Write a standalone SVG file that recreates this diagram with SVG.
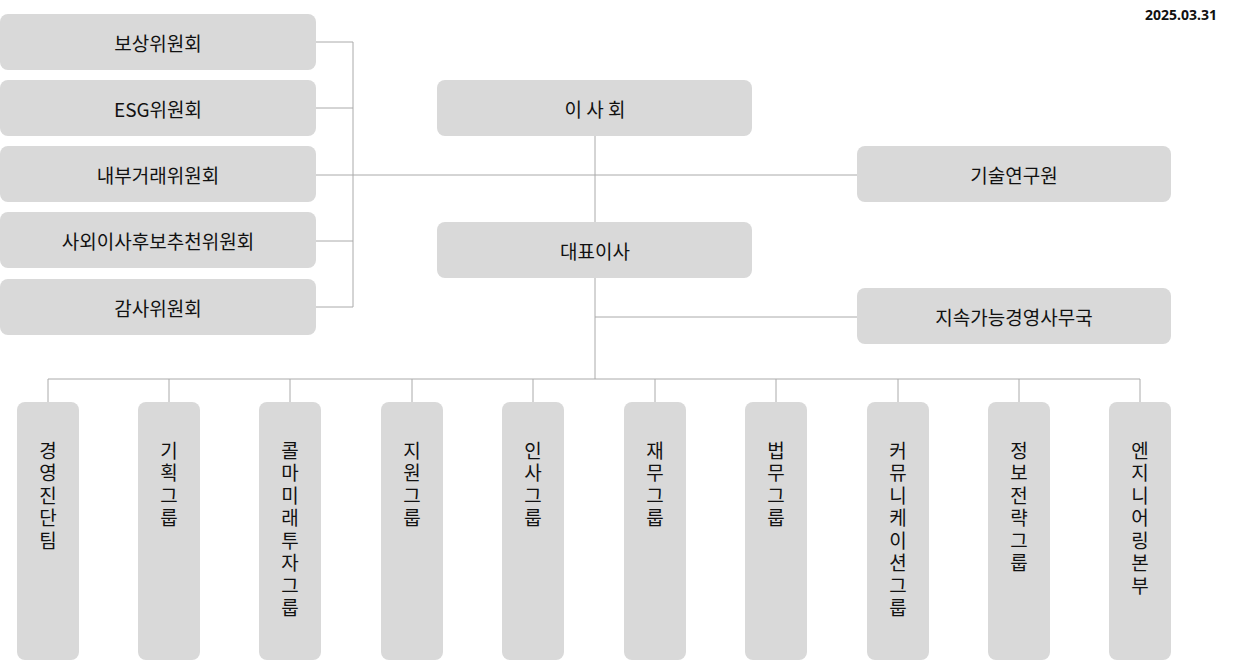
<svg xmlns="http://www.w3.org/2000/svg" width="1233" height="661" viewBox="0 0 1233 661">
<style>
.b{fill:#d9d9d9}
.t{font-family:"Noto Sans CJK KR","Noto Sans",sans-serif;font-size:19px;fill:#111;text-anchor:middle;dominant-baseline:central}
.v{font-family:"Noto Sans CJK KR","Noto Sans",sans-serif;font-size:19px;fill:#111;writing-mode:vertical-rl;text-orientation:upright;letter-spacing:3.5px}
.l{stroke:#aaa;stroke-width:1;fill:none}
</style>
<rect width="1233" height="661" fill="#fff"/>
<text x="1217" y="20" font-family="Noto Sans,sans-serif" font-size="14" font-weight="bold" text-anchor="end" fill="#111">2025.03.31</text>
<g id="connectors" class="l">
<path d="M316 42H353M316 108H353M316 175H353M316 241H353M316 307H353M353 42V307M353 175H857"/>
<path d="M595 136V222M595 278V379M595 317H857M48 379H1140"/>
<path d="M48 379V402M169 379V402M290 379V402M412 379V402M533 379V402M655 379V402M776 379V402M898 379V402M1019 379V402M1140 379V402"/>
</g>
<g id="n1"><rect class="b" x="0" y="14" width="316" height="56" rx="8"/><text class="t" x="158" y="42">보상위원회</text></g>
<g id="n2"><rect class="b" x="0" y="80" width="316" height="56" rx="8"/><text class="t" x="158" y="108">ESG위원회</text></g>
<g id="n3"><rect class="b" x="0" y="146" width="316" height="56" rx="8"/><text class="t" x="158" y="174">내부거래위원회</text></g>
<g id="n4"><rect class="b" x="0" y="212" width="316" height="56" rx="8"/><text class="t" x="158" y="240">사외이사후보추천위원회</text></g>
<g id="n5"><rect class="b" x="0" y="279" width="316" height="56" rx="8"/><text class="t" x="158" y="307">감사위원회</text></g>
<g id="board"><rect class="b" x="437" y="80" width="315" height="56" rx="8"/><text class="t" x="595" y="108">이 사 회</text></g>
<g id="ceo"><rect class="b" x="437" y="222" width="315" height="56" rx="8"/><text class="t" x="595" y="250">대표이사</text></g>
<g id="lab"><rect class="b" x="857" y="146" width="314" height="56" rx="8"/><text class="t" x="1014" y="174">기술연구원</text></g>
<g id="esg"><rect class="b" x="857" y="288" width="314" height="56" rx="8"/><text class="t" x="1014" y="316">지속가능경영사무국</text></g>
<g id="c1"><rect class="b" x="17" y="402" width="62" height="258" rx="8"/><text class="v" x="48" y="441">경영진단팀</text></g>
<g id="c2"><rect class="b" x="138" y="402" width="62" height="258" rx="8"/><text class="v" x="169" y="441">기획그룹</text></g>
<g id="c3"><rect class="b" x="259" y="402" width="62" height="258" rx="8"/><text class="v" x="290" y="441">콜마미래투자그룹</text></g>
<g id="c4"><rect class="b" x="381" y="402" width="62" height="258" rx="8"/><text class="v" x="412" y="441">지원그룹</text></g>
<g id="c5"><rect class="b" x="502" y="402" width="62" height="258" rx="8"/><text class="v" x="533" y="441">인사그룹</text></g>
<g id="c6"><rect class="b" x="624" y="402" width="62" height="258" rx="8"/><text class="v" x="655" y="441">재무그룹</text></g>
<g id="c7"><rect class="b" x="745" y="402" width="62" height="258" rx="8"/><text class="v" x="776" y="441">법무그룹</text></g>
<g id="c8"><rect class="b" x="867" y="402" width="62" height="258" rx="8"/><text class="v" x="898" y="441">커뮤니케이션그룹</text></g>
<g id="c9"><rect class="b" x="988" y="402" width="62" height="258" rx="8"/><text class="v" x="1019" y="441">정보전략그룹</text></g>
<g id="c10"><rect class="b" x="1109" y="402" width="62" height="258" rx="8"/><text class="v" x="1140" y="441">엔지니어링본부</text></g>
</svg>
